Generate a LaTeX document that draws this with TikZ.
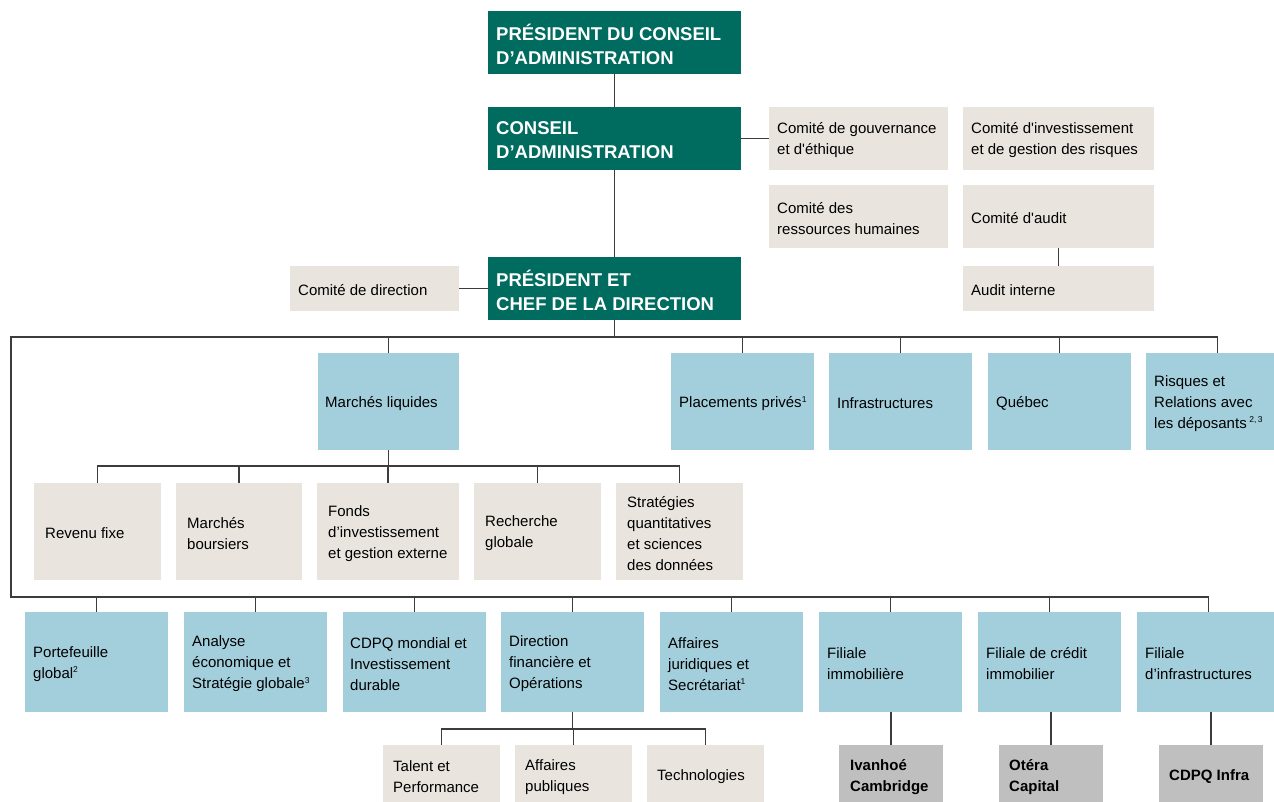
\documentclass[tikz,border=0pt]{standalone}
\usepackage{fontspec}
\setmainfont{Liberation Sans}
\definecolor{cgreen}{RGB}{0,107,95}
\definecolor{cblue}{RGB}{163,207,220}
\definecolor{cbeige}{RGB}{233,228,222}
\definecolor{cgrey}{RGB}{191,191,191}
\definecolor{cline}{RGB}{60,60,60}
\newcommand\bx[9]{%
  \node[#1, minimum width=#6pt, minimum height=#7pt] (#3) at (#4,#5) {};
  \node[#2] (#3t) at ([xshift=#8pt,yshift=-2pt]#3.west) {#9};}
\newcommand\sq{\textquotesingle}
\newcommand\sups[1]{\raisebox{5.5pt}{\fontsize{8.5}{10}\selectfont #1}}
\begin{document}
\begin{tikzpicture}[x=1pt,y=-1pt,
  box/.style={anchor=north west, inner sep=0pt, outer sep=0pt},
  greenbox/.style={box, fill=cgreen},
  bluebox/.style={box, fill=cblue},
  beigebox/.style={box, fill=cbeige},
  greybox/.style={box, fill=cgrey},
  nt/.style={anchor=west, inner sep=0pt, align=left, text=black,
    font=\fontsize{15}{21}\selectfont},
  gt/.style={nt, text=white, font=\bfseries\fontsize{18.5}{24}\selectfont},
  bt/.style={nt, font=\bfseries\fontsize{15}{21}\selectfont},
  conn/.style={draw=cline, line width=1.2pt}]
\useasboundingbox (0,0) rectangle (1274,802);
% top green boxes
\bx{greenbox}{gt}{pdca}{488}{11}{253}{63}{8}{PRÉSIDENT DU CONSEIL\\D’ADMINISTRATION}
\bx{greenbox}{gt}{ca}{488}{107}{253}{63}{8}{CONSEIL\\D’ADMINISTRATION}
\bx{greenbox}{gt}{pcd}{488}{257}{253}{63}{8}{PRÉSIDENT ET\\CHEF DE LA DIRECTION}
% committees
\bx{beigebox}{nt}{cgov}{769}{107}{179}{63}{8}{Comité de gouvernance\\et d\sq éthique}
\bx{beigebox}{nt}{cinv}{963}{107}{191}{63}{8}{Comité d\sq investissement\\et de gestion des risques}
\bx{beigebox}{nt}{crh}{769}{185}{179}{63}{8}{Comité des\\ressources humaines}
\bx{beigebox}{nt}{caud}{963}{185}{191}{63}{8}{Comité d\sq audit}
\bx{beigebox}{nt}{ai}{963}{266}{191}{45}{8}{Audit interne}
\bx{beigebox}{nt}{cdir}{290}{266}{169}{45}{8}{Comité de direction}
% row 2
\bx{bluebox}{nt}{ml}{318}{353}{141}{97}{7}{Marchés liquides}
\bx{bluebox}{nt}{pp}{671}{353}{143}{97}{8}{Placements privés\sups{1}}
\bx{bluebox}{nt}{inf}{829}{353}{143}{97}{8}{Infrastructures}
\bx{bluebox}{nt}{qc}{988}{353}{143}{97}{8}{Québec}
\bx{bluebox}{nt}{risk}{1146}{353}{143}{97}{8}{Risques et\\Relations avec\\les déposants\,\sups{2,\,3}}
% marchés liquides subs
\bx{beigebox}{nt}{rf}{34}{483}{127}{97}{11}{Revenu fixe}
\bx{beigebox}{nt}{mb}{176}{483}{126}{97}{11}{Marchés\\boursiers}
\bx{beigebox}{nt}{fo}{317}{483}{142}{97}{11}{Fonds\\d’investissement\\et gestion externe}
\bx{beigebox}{nt}{rg}{474}{483}{127}{97}{11}{Recherche\\globale}
\bx{beigebox}{nt}{st}{616}{483}{127}{97}{11}{Stratégies\\quantitatives\\et sciences\\des données}
% row 3
\bx{bluebox}{nt}{pg}{25}{612}{143}{100}{8}{Portefeuille\\global\sups{2}}
\bx{bluebox}{nt}{an}{184}{612}{143}{100}{8}{Analyse\\économique et\\Stratégie globale\sups{3}}
\bx{bluebox}{nt}{cm}{343}{612}{143}{100}{7}{CDPQ mondial et\\Investissement\\durable}
\bx{bluebox}{nt}{df}{501}{612}{143}{100}{8}{Direction\\financière et\\Opérations}
\bx{bluebox}{nt}{aj}{660}{612}{143}{100}{8}{Affaires\\juridiques et\\Secrétariat\sups{1}}
\bx{bluebox}{nt}{fimm}{819}{612}{143}{100}{8}{Filiale\\immobilière}
\bx{bluebox}{nt}{fcr}{978}{612}{143}{100}{8}{Filiale de crédit\\immobilier}
\bx{bluebox}{nt}{finf}{1137}{612}{143}{100}{8}{Filiale\\d’infrastructures}
% row 4
\bx{beigebox}{nt}{tp}{383}{745}{117}{60}{10}{Talent et\\Performance}
\bx{beigebox}{nt}{ap}{515}{745}{117}{60}{10}{Affaires\\publiques}
\bx{beigebox}{nt}{tech}{647}{745}{117}{60}{10}{Technologies}
\bx{greybox}{bt}{iv}{839}{745}{104}{60}{11}{Ivanhoé\\Cambridge}
\bx{greybox}{bt}{ot}{999}{745}{104}{60}{10}{Otéra\\Capital}
\bx{greybox}{bt}{ci}{1159}{745}{104}{60}{10}{CDPQ Infra}
% connectors
\draw[conn] (pdca.south) -- (ca.north);
\draw[conn] (ca.south) -- (pcd.north);
\draw[conn] (ca.east) -- (cgov.west);
\draw[conn] (pcd.west) -- (cdir.east);
\draw[conn] (caud.south) -- (ai.north);
\coordinate (tl) at (11,337);
\coordinate (bl) at (11,597);
\draw[conn] (risk.north) |- (tl) -- (bl) -| (finf.north);
\draw[conn] (pcd.south) -- (pcd.south |- tl);
\foreach \n in {ml,pp,inf,qc}{\draw[conn] (\n.north) -- (\n.north |- tl);}
\foreach \n in {pg,an,cm,df,aj,fimm,fcr}{\draw[conn] (\n.north) -- (\n.north |- bl);}
\path (ml.south) ++(0,16) coordinate (ms);
\draw[conn] (rf.north) |- (ms) -| (st.north);
\draw[conn] (ml.south) -- (ms);
\foreach \n in {mb,fo,rg}{\draw[conn] (\n.north) -- (\n.north |- ms);}
\path (df.south) ++(0,17) coordinate (ds);
\draw[conn] (tp.north) |- (ds) -| (tech.north);
\draw[conn] (df.south) -- (ds);
\draw[conn] (ap.north) -- (ap.north |- ds);
\draw[conn] (iv.north) -- (iv.north |- fimm.south);
\draw[conn] (ot.north) -- (ot.north |- fcr.south);
\draw[conn] (ci.north) -- (ci.north |- finf.south);
\end{tikzpicture}
\end{document}
